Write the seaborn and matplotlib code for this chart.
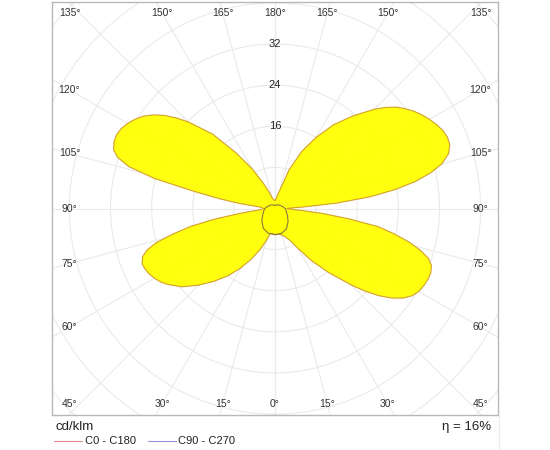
import numpy as np
import pandas as pd
import matplotlib
matplotlib.use("Agg")
import matplotlib.pyplot as plt
import seaborn as sns
from matplotlib.lines import Line2D

# luminous intensity, cd/klm (gamma 0 = down, 180 = up)
gamma_c0 = [0, 5, 10, 15, 20, 25, 30, 35, 40, 45, 47.5, 50, 52.5, 55, 57.5, 60, 62.5,
            65, 67.5, 70, 72, 74, 76, 78, 80, 82, 84, 86, 88, 90, 92, 93, 95, 97, 99,
            101, 103, 105, 107.5, 110, 112.5, 115, 117.5, 120, 122.5, 125, 127.5, 130,
            132.5, 135, 140, 145, 150, 155, 160, 165, 170, 175, 180]
cd_c0 = [5.1, 5.0, 5.1, 5.4, 5.9, 6.8, 9.0, 12.4, 16.3, 21.1, 23.8, 26.4, 28.6, 30.4,
         31.6, 32.3, 32.6, 32.8, 32.8, 32.4, 31.4, 29.4, 26.8, 23.7, 20.4, 14.6, 9.4,
         5.0, 2.8, 2.3, 3.3, 5.4, 12.0, 18.6, 23.8, 28.0, 31.2, 33.6, 35.4, 36.2, 36.3,
         36.0, 35.4, 34.7, 33.9, 33.0, 31.9, 30.7, 29.1, 27.3, 23.5, 19.9, 16.0, 12.2,
         8.0, 3.8, 2.6, 1.9, 1.6]

gamma_c180 = [0, 5, 10, 15, 20, 25, 30, 35, 40, 45, 50, 55, 57.5, 60, 62.5, 65, 67.5,
              70, 72, 74, 76, 78, 80, 82, 84, 86, 88, 90, 92, 94, 96, 98, 100, 102, 104,
              106, 108, 110, 112.5, 115, 117.5, 120, 122.5, 125, 127.5, 130, 132.5,
              135, 140, 145, 150, 155, 160, 165, 170, 175, 180]
cd_c180 = [5.1, 4.9, 4.9, 6.4, 8.5, 10.8, 13.4, 16.0, 18.5, 21.1, 23.7, 25.7, 26.5,
           27.1, 27.6, 27.9, 28.0, 27.4, 26.2, 24.0, 20.4, 16.8, 12.0, 7.0, 3.8, 2.6,
           2.4, 2.3, 2.4, 2.6, 3.2, 6.9, 11.0, 16.2, 24.2, 29.6, 32.2, 33.4, 33.9,
           34.0, 33.7, 33.1, 32.3, 31.3, 29.9, 28.2, 26.1, 23.8, 18.9, 13.2, 9.0, 5.5,
           3.5, 2.2, 1.8, 1.6, 1.6]

gamma_c90 = [0, 15, 30, 45, 60, 75, 90, 105, 120, 135, 150, 165, 180]
cd_c90 = [5.1, 5.0, 4.5, 3.6, 2.8, 2.3, 2.0, 1.5, 1.2, 1.0, 0.8, 0.65, 0.6]

ring_values = [8, 16, 24, 32, 40, 48, 56]
ring_labels = [16, 24, 32]
grid_angles = list(range(0, 181, 15))

efficiency = 16

# layout (pixels of the 550x450 picture)
px_per_cd = 5.14
half_w = 223 / px_per_cd
half_h = 206.5 / px_per_cd
lab_dx = 205.5 / px_per_cd
lab_dy = 195.5 / px_per_cd


def polar_xy(gamma, r, side):
    g = np.radians(np.asarray(gamma, dtype=float))
    r = np.asarray(r, dtype=float)
    return side * r * np.sin(g), -r * np.cos(g)


def loop(gamma_right, r_right, gamma_left, r_left):
    xl, yl = polar_xy(gamma_left, r_left, -1)
    xr, yr = polar_xy(gamma_right, r_right, 1)
    x = np.concatenate([xl[::-1], xr])
    y = np.concatenate([yl[::-1], yr])
    return pd.DataFrame({"x": x, "y": y, "order": np.arange(len(x))})


sns.set_style("white")
plt.rcParams["font.family"] = ["Liberation Sans", "DejaVu Sans"]

fig = plt.figure(figsize=(5.5, 4.5), dpi=100)
ax = fig.add_axes([52 / 550, 35 / 450, 446 / 550, 413 / 450])
ax.set_xlim(-half_w, half_w)
ax.set_ylim(-half_h, half_h)

grid_col = "#eaeaea"
# rings
t = np.linspace(0, 2 * np.pi, 400)
for rv in ring_values:
    ax.plot(rv * np.cos(t), rv * np.sin(t), color=grid_col, lw=0.8, zorder=1)
# radial lines every 15 deg
for ga in grid_angles:
    for side in (-1, 1):
        gx, gy = polar_xy([0, ga], [0, 80], side)
        ax.plot(gx, gy, color=grid_col, lw=0.8, zorder=1)

df_c0 = loop(gamma_c0, cd_c0, gamma_c180, cd_c180)
df_c90 = loop(gamma_c90, cd_c90, gamma_c90, cd_c90)

ax.fill(df_c0["x"], df_c0["y"], color="#ffff00", alpha=0.94, lw=0, zorder=2)
ax.fill(df_c90["x"], df_c90["y"], color="#ffff00", alpha=0.94, lw=0, zorder=2)
sns.lineplot(data=df_c0, x="x", y="y", sort=False, estimator=None,
             color="#d4a02a", lw=0.8, ax=ax, zorder=3)
sns.lineplot(data=df_c90, x="x", y="y", sort=False, estimator=None,
             color="#8c7a3c", lw=0.8, ax=ax, zorder=3)

# ring value labels along the vertical axis
for rl in ring_labels:
    ax.text(0, rl, str(rl), ha="center", va="center", fontsize=8, color="#222222", zorder=4)

# angle labels around the frame
lab_kw = dict(ha="center", va="center", fontsize=7.5, color="#333333", zorder=4)
for ga in grid_angles:
    for side in (-1, 1):
        if ga in (0, 180) and side == -1:
            continue
        if ga <= 45:
            x, y = side * lab_dy * np.tan(np.radians(ga)), -lab_dy
            if ga == 45:
                x = side * lab_dx
        elif ga >= 135:
            x, y = side * lab_dy * np.tan(np.radians(180 - ga)), lab_dy
            if ga == 135:
                x = side * lab_dx
        else:
            x, y = side * lab_dx, lab_dx * np.tan(np.radians(ga - 90))
        ax.text(x, y, f"{ga}°", **lab_kw)

ax.set_xticks([])
ax.set_yticks([])
ax.set_xlabel("")
ax.set_ylabel("")
for sp in ax.spines.values():
    sp.set_visible(True)
    sp.set_color("#b8b8b8")
    sp.set_linewidth(1.0)

# footer: unit, legend, efficiency
fig.text(56 / 550, 1 - 427 / 450, "cd/klm", ha="left", va="center", fontsize=9.5, color="#222222")
fig.text(491 / 550, 1 - 427 / 450, f"η = {efficiency}%", ha="right", va="center",
         fontsize=9.5, color="#222222")
ly = 1 - 441 / 450
fig.add_artist(Line2D([54 / 550, 82 / 550], [ly, ly], color="#e88a8a", lw=0.8))
fig.text(85 / 550, ly, "C0 - C180", ha="left", va="center", fontsize=8, color="#222222")
fig.add_artist(Line2D([148 / 550, 176 / 550], [ly, ly], color="#9494dc", lw=0.8))
fig.text(178 / 550, ly, "C90 - C270", ha="left", va="center", fontsize=8, color="#222222")
fig.add_artist(Line2D([499 / 550, 499 / 550], [0, 35 / 450], color="#ececec", lw=0.8))

fig.savefig("out.png", dpi=100)
